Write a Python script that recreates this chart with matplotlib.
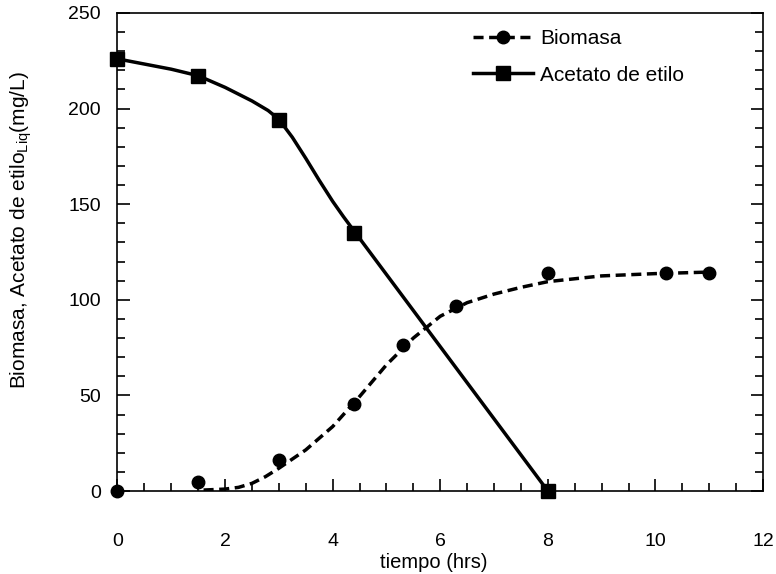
import matplotlib
matplotlib.use("Agg")
import matplotlib.pyplot as plt
from matplotlib.lines import Line2D
from matplotlib.ticker import MultipleLocator

plt.rcParams['font.family'] = ['Liberation Sans', 'DejaVu Sans']
plt.rcParams['mathtext.fontset'] = 'custom'
plt.rcParams['mathtext.rm'] = 'Liberation Sans'
plt.rcParams['mathtext.default'] = 'regular'

# measured points
tBio = [0, 1.5, 3.0, 4.4, 5.3, 6.3, 8.0, 10.2, 11.0]
bio = [0, 4.7, 16, 45.5, 76.5, 97, 114, 114, 114]
tAce = [0, 1.5, 3.0, 4.4, 8.0]
ace = [226, 217, 194, 135, 0]

# fitted curves
tBioFit = [1.6, 2.0, 2.25, 2.5, 2.75, 3.0, 3.5, 4.0, 4.5, 5.0, 5.5, 6.0, 6.5, 7.0, 7.5, 8.0, 9.0, 10.0, 11.0]
bioFit = [0.5, 1, 1.9, 4, 7.5, 11.9, 21.5, 33.7, 49.4, 66, 80, 91.4, 98.5, 103, 106.5, 109.5, 112.5, 113.7, 114.5]
tAceFit = [0, 0.5, 1.0, 1.5, 2.0, 2.5, 2.8, 3.0, 3.25, 3.5, 3.75, 4.0, 4.2, 4.4, 8.0]
aceFit = [226, 223.3, 220.6, 217.2, 211.1, 204, 199, 194.4, 185, 174, 162.5, 151.5, 143.5, 135.9, 0]

fig = plt.figure(figsize=(7.76, 5.74), dpi=100)
ax = fig.add_axes([117.5 / 776, 1 - 491 / 574, (763 - 117.5) / 776, (491 - 13) / 574])

lw = 2.5
dash = (2.9, 1.6)
ax.plot(tBioFit, bioFit, color='black', lw=lw, dashes=dash)
ax.plot(tBio, bio, 'o', color='black', ms=9, clip_on=False, zorder=5)
ax.plot(tAceFit, aceFit, color='black', lw=lw, solid_joinstyle='round')
ax.plot(tAce, ace, 's', color='black', ms=10, clip_on=False, zorder=5)

ax.set_xlim(0, 12)
ax.set_ylim(0, 250)
ax.xaxis.set_major_locator(MultipleLocator(2))
ax.xaxis.set_minor_locator(MultipleLocator(0.5))
ax.yaxis.set_major_locator(MultipleLocator(50))
ax.yaxis.set_minor_locator(MultipleLocator(10))
ax.tick_params(which='both', direction='in', top=False, right=True, width=1.2)
ax.tick_params(which='major', length=9)
ax.tick_params(which='minor', length=6)
ax.tick_params(axis='x', which='major', pad=30, labelsize=14)
ax.tick_params(axis='y', which='major', pad=12, labelsize=14)
for s in ax.spines.values():
    s.set_linewidth(1.2)

ax.set_xlabel('tiempo (hrs)', fontsize=14.5)
ax.xaxis.set_label_coords(0.49, -0.13)
ax.set_ylabel(r'Biomasa, Acetato de etilo$_{Liq}$(mg/L)', fontsize=15)
ax.yaxis.set_label_coords(-0.13, 0.545)

handles = [
    Line2D([], [], color='black', lw=lw, dashes=dash, marker='o', ms=9),
    Line2D([], [], color='black', lw=lw, marker='s', ms=10),
]
ax.legend(handles, ['Biomasa', 'Acetato de etilo'], loc='upper left', frameon=False,
          bbox_to_anchor=(473 / 776, 1 - 29 / 574), bbox_transform=fig.transFigure,
          borderpad=0, borderaxespad=0, handlelength=2.9, handletextpad=0.33,
          labelspacing=0.85, fontsize=15)

fig.savefig('out.png', dpi=100)
